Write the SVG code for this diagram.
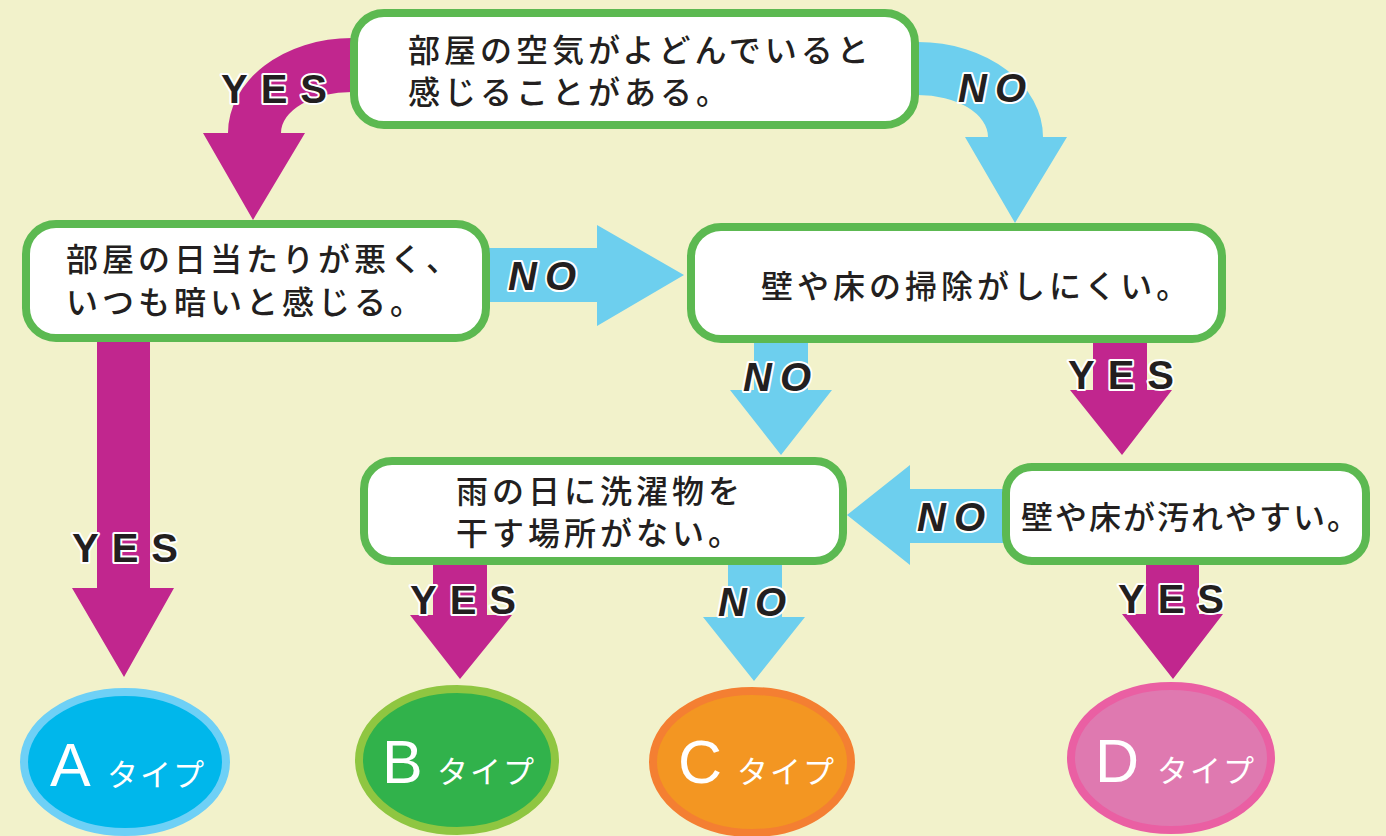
<svg xmlns="http://www.w3.org/2000/svg" width="1386" height="836" viewBox="0 0 1386 836">
<style>
.box{fill:#ffffff;stroke:#5cb951;stroke-width:8}
.q{font-family:"Noto Sans CJK JP","Noto Sans",sans-serif;font-size:32px;font-weight:500;letter-spacing:4px;fill:#231f20}
.yes{fill:#c1268e}
.no{fill:#6dcfee}
.lbl{font-family:"Liberation Sans",Arial,sans-serif;font-weight:bold;font-size:40px;fill:#231f20;stroke:#ffffff;stroke-width:4;paint-order:stroke;stroke-linejoin:round}
.ly{letter-spacing:13px}
.ln{font-style:italic;letter-spacing:8px}
.big{font-family:"Liberation Sans",Arial,sans-serif;font-size:61px;fill:#ffffff}
.kt{font-family:"Noto Sans CJK JP","Noto Sans",sans-serif;font-size:31px;fill:#ffffff;letter-spacing:2px}
</style>
<rect x="0" y="0" width="1386" height="836" fill="#f2f2cb"/>
<g id="connectors">
  <path class="yes" d="M 356 38 L 352 38 A 124 95 0 0 0 228 133 L 203 133 L 253 220 L 305 133 L 281 133 A 71 41 0 0 1 352 92 L 356 92 Z"/>
  <path class="no" d="M 914 42 L 918 42 A 125 95 0 0 1 1043 137 L 1067 137 L 1015 223 L 965 137 L 988 137 A 70 42 0 0 0 918 95 L 914 95 Z"/>
  <path class="no" d="M 484 248 L 597 248 L 597 225 L 684 275 L 597 326 L 597 302 L 484 302 Z"/>
  <path class="yes" d="M 97 336 L 150 336 L 150 588 L 174 588 L 124 677 L 72 588 L 97 588 Z"/>
  <path class="no" d="M 754 336 L 808 336 L 808 390 L 832 390 L 781 455 L 730 390 L 754 390 Z"/>
  <path class="yes" d="M 1093 336 L 1147 336 L 1147 390 L 1172 390 L 1122 455 L 1070 390 L 1093 390 Z"/>
  <path class="no" d="M 1008 489 L 910 489 L 910 465 L 847 515 L 910 565 L 910 543 L 1008 543 Z"/>
  <path class="yes" d="M 433 558 L 487 558 L 487 615 L 512 615 L 460 679 L 410 615 L 433 615 Z"/>
  <path class="no" d="M 728 558 L 782 558 L 782 617 L 805 617 L 754 681 L 703 617 L 728 617 Z"/>
  <path class="yes" d="M 1146 558 L 1199 558 L 1199 614 L 1223 614 L 1173 679 L 1122 614 L 1146 614 Z"/>
  <text class="lbl ly" x="221" y="103">YES</text>
  <text class="lbl ln" x="958" y="102">NO</text>
  <text class="lbl ln" x="508" y="290">NO</text>
  <text class="lbl ly" x="72" y="562">YES</text>
  <text class="lbl ln" x="743" y="391">NO</text>
  <text class="lbl ly" x="1068" y="389">YES</text>
  <text class="lbl ln" x="917" y="531">NO</text>
  <text class="lbl ly" x="410" y="614">YES</text>
  <text class="lbl ln" x="718" y="616">NO</text>
  <text class="lbl ly" x="1118" y="613">YES</text>
</g>
<g id="q1">
  <rect class="box" x="354" y="13" width="561" height="112" rx="30"/>
  <text class="q"><tspan x="408" y="62">部屋の空気がよどんでいると</tspan><tspan x="408" y="104">感じることがある。</tspan></text>
</g>
<g id="q2">
  <rect class="box" x="26" y="224" width="460" height="114" rx="30"/>
  <text class="q"><tspan x="66" y="271">部屋の日当たりが悪く、</tspan><tspan x="66" y="314">いつも暗いと感じる。</tspan></text>
</g>
<g id="q3">
  <rect class="box" x="691" y="227" width="531" height="112" rx="30"/>
  <text class="q" x="761" y="298">壁や床の掃除がしにくい。</text>
</g>
<g id="q4">
  <rect class="box" x="364" y="461" width="479" height="100" rx="28"/>
  <text class="q"><tspan x="456" y="503">雨の日に洗濯物を</tspan><tspan x="456" y="545">干す場所がない。</tspan></text>
</g>
<g id="q5">
  <rect class="box" x="1006" y="467" width="360" height="94" rx="26"/>
  <text class="q" x="1021" y="529" style="letter-spacing:2px">壁や床が汚れやすい。</text>
</g>
<g id="typeA">
  <ellipse cx="125" cy="762" rx="101" ry="70" fill="#00b7eb" stroke="#6ed0f6" stroke-width="8"/>
  <text class="big" x="50" y="786">A</text>
  <text class="kt" x="107" y="786">タイプ</text>
</g>
<g id="typeB">
  <ellipse cx="457" cy="760" rx="98" ry="71" fill="#31b24b" stroke="#8fc641" stroke-width="8"/>
  <text class="big" x="382" y="783">B</text>
  <text class="kt" x="437" y="783">タイプ</text>
</g>
<g id="typeC">
  <ellipse cx="752" cy="762" rx="99" ry="71" fill="#f39622" stroke="#f47f32" stroke-width="8"/>
  <text class="big" x="678" y="783">C</text>
  <text class="kt" x="737" y="783">タイプ</text>
</g>
<g id="typeD">
  <ellipse cx="1171" cy="758" rx="100" ry="72" fill="#df79b0" stroke="#ea5fa3" stroke-width="8"/>
  <text class="big" x="1095" y="782">D</text>
  <text class="kt" x="1157" y="782">タイプ</text>
</g>
</svg>
